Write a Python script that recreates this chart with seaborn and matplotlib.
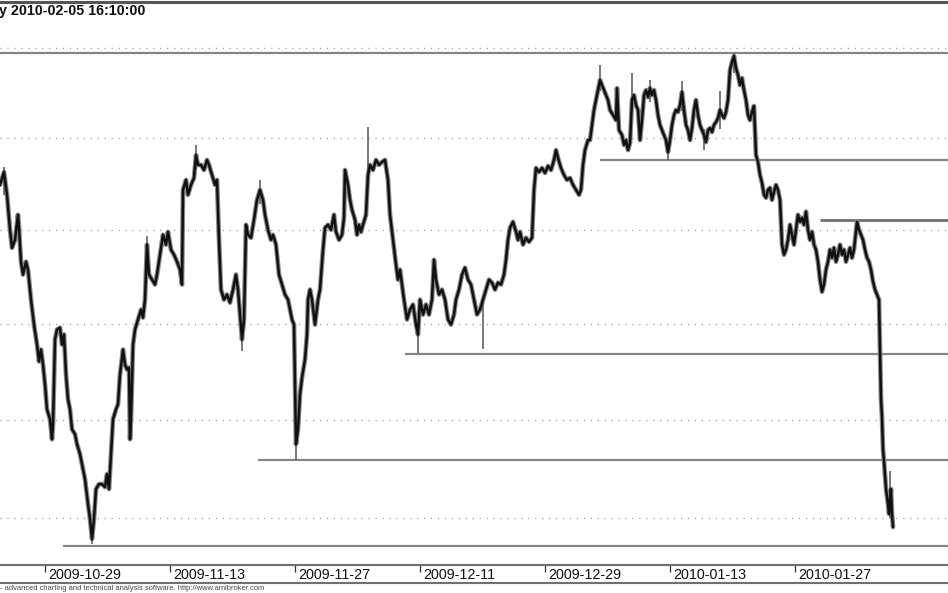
import matplotlib
matplotlib.use("Agg")
import matplotlib.pyplot as plt
from matplotlib.lines import Line2D
import seaborn as sns
import pandas as pd

# ---------------- data (session index since 2009-10-29, price) ----------------
sess = [-3.60, -3.28, -3.04, -2.80, -2.64, -2.40, -2.16, -2.08, -1.92, -1.76, -1.52, -1.36, -1.12, -0.88,
        -0.64, -0.48, -0.32, -0.16, 0.00, 0.16, 0.40, 0.56, 0.64, 0.80, 0.96, 1.20, 1.36, 1.52, 1.68, 1.84,
        2.00, 2.16, 2.40, 2.56, 2.80, 3.04, 3.20, 3.44, 3.60, 3.76, 3.92, 4.08, 4.32, 4.56, 4.80, 4.96,
        5.12, 5.28, 5.44, 5.68, 5.84, 6.00, 6.24, 6.40, 6.56, 6.72, 6.80, 6.88, 7.04, 7.20, 7.44, 7.68,
        7.84, 8.00, 8.16, 8.32, 8.56, 8.80, 8.96, 9.20, 9.44, 9.68, 9.84, 10.08, 10.32, 10.56, 10.80, 10.96,
        11.04, 11.28, 11.44, 11.68, 11.92, 12.08, 12.24, 12.48, 12.72, 12.96, 13.12, 13.36, 13.60, 13.76,
        13.92, 14.08, 14.32, 14.56, 14.80, 15.04, 15.28, 15.44, 15.60, 15.76, 15.92, 16.08, 16.24, 16.48,
        16.72, 16.96, 17.20, 17.44, 17.60, 17.84, 18.08, 18.24, 18.48, 18.72, 18.96, 19.20, 19.44, 19.76,
        19.92, 20.08, 20.24, 20.40, 20.56, 20.80, 20.96, 21.04, 21.20, 21.36, 21.60, 21.84, 22.00, 22.24,
        22.40, 22.64, 22.88, 23.12, 23.28, 23.52, 23.76, 23.92, 24.00, 24.24, 24.40, 24.56, 24.80, 24.96,
        25.12, 25.28, 25.44, 25.68, 25.84, 26.00, 26.24, 26.48, 26.72, 26.96, 27.20, 27.44, 27.60, 27.84,
        28.08, 28.24, 28.40, 28.56, 28.72, 28.96, 29.20, 29.44, 29.68, 29.84, 30.00, 30.24, 30.48, 30.72,
        30.96, 31.12, 31.28, 31.52, 31.76, 32.00, 32.24, 32.48, 32.72, 32.88, 33.12, 33.36, 33.60, 33.84,
        34.08, 34.32, 34.56, 34.80, 35.04, 35.28, 35.52, 35.76, 36.00, 36.24, 36.48, 36.72, 36.88, 37.04,
        37.20, 37.44, 37.68, 37.84, 38.00, 38.24, 38.48, 38.72, 38.96, 39.12, 39.28, 39.52, 39.76, 40.00,
        40.24, 40.48, 40.72, 40.88, 41.04, 41.28, 41.52, 41.76, 42.00, 42.24, 42.48, 42.72, 42.88, 43.04,
        43.20, 43.44, 43.60, 43.76, 43.92, 44.08, 44.24, 44.40, 44.56, 44.72, 44.88, 45.04, 45.20, 45.44,
        45.68, 45.76, 45.92, 46.16, 46.32, 46.48, 46.64, 46.80, 46.96, 47.12, 47.28, 47.44, 47.60, 47.76,
        47.92, 48.08, 48.24, 48.40, 48.56, 48.72, 48.88, 49.04, 49.20, 49.36, 49.52, 49.68, 49.84, 50.00,
        50.16, 50.32, 50.48, 50.64, 50.80, 50.96, 51.12, 51.28, 51.44, 51.60, 51.76, 51.92, 52.08, 52.24,
        52.40, 52.56, 52.72, 52.88, 53.04, 53.20, 53.36, 53.52, 53.68, 53.84, 54.00, 54.16, 54.32, 54.48,
        54.64, 54.80, 54.96, 55.12, 55.28, 55.44, 55.60, 55.76, 55.92, 56.08, 56.24, 56.40, 56.56, 56.72,
        56.88, 57.04, 57.20, 57.36, 57.52, 57.68, 57.84, 58.00, 58.16, 58.32, 58.48, 58.64, 58.80, 58.96,
        59.12, 59.28, 59.44, 59.60, 59.76, 59.92, 60.08, 60.24, 60.40, 60.56, 60.72, 60.88, 61.04, 61.20,
        61.36, 61.52, 61.68, 61.84, 62.00, 62.16, 62.32, 62.48, 62.64, 62.80, 62.96, 63.12, 63.28, 63.44,
        63.60, 63.76, 63.92, 64.08, 64.24, 64.40, 64.56, 64.72, 64.96, 65.12, 65.28, 65.44, 65.60, 65.76,
        65.92, 66.08, 66.24, 66.40, 66.56, 66.72, 66.80, 66.88, 66.96, 67.04, 67.12, 67.28, 67.44, 67.52,
        67.60, 67.68, 67.76, 67.84]

price = [2374.4, 2381.4, 2369.0, 2350.1, 2340.4, 2344.7, 2358.2, 2351.2, 2333.0, 2326.1, 2333.0, 2328.7, 2312.8, 2299.6,
         2289.1, 2280.3, 2286.5, 2278.7, 2268.3, 2255.4, 2250.3, 2240.0, 2247.7, 2291.8, 2297.0, 2298.0, 2289.1, 2294.4, 2273.5, 2260.6,
         2255.4, 2245.1, 2242.6, 2237.5, 2232.4, 2224.7, 2219.6, 2207.0, 2199.5, 2189.4, 2199.5, 2214.6, 2217.1, 2217.1, 2215.6, 2222.2,
         2214.6, 2232.4, 2250.3, 2255.4, 2258.0, 2273.5, 2286.5, 2278.7, 2276.1, 2277.1, 2240.0, 2250.3, 2289.1, 2297.0, 2302.3, 2307.5,
         2303.3, 2312.8, 2342.1, 2326.1, 2323.4, 2320.8, 2326.1, 2336.7, 2347.4, 2342.1, 2349.0, 2339.4, 2336.7, 2333.0, 2328.7, 2320.8,
         2371.7, 2377.1, 2369.0, 2374.4, 2378.2, 2390.7, 2385.3, 2385.3, 2382.5, 2388.0, 2385.3, 2379.8, 2374.4, 2377.1,
         2344.7, 2318.1, 2312.8, 2315.5, 2311.2, 2318.1, 2326.1, 2318.1, 2304.9, 2291.8, 2302.3, 2352.8, 2347.4, 2345.8,
         2355.5, 2366.3, 2371.7, 2366.3, 2358.2, 2350.1, 2344.7, 2347.4, 2342.1, 2326.1, 2320.8, 2315.5, 2312.8, 2302.3,
         2299.6, 2237.5, 2245.1, 2263.1, 2271.9, 2281.3, 2294.4, 2312.8, 2318.1, 2312.8, 2299.6, 2312.8, 2318.1, 2339.4,
         2351.2, 2352.8, 2350.1, 2358.2, 2349.0, 2344.7, 2347.4, 2356.6, 2382.5, 2374.4, 2366.3, 2360.9, 2355.5, 2347.4,
         2352.8, 2349.0, 2352.8, 2358.2, 2379.8, 2385.3, 2382.5, 2388.0, 2385.3, 2386.9, 2388.0, 2377.1, 2358.2, 2344.7,
         2331.4, 2323.4, 2328.7, 2320.8, 2312.8, 2302.3, 2307.5, 2310.2, 2299.6, 2294.4, 2312.8, 2304.9, 2310.2, 2304.9,
         2312.8, 2334.0, 2323.4, 2315.5, 2318.1, 2312.8, 2302.3, 2299.6, 2304.9, 2312.8, 2318.1, 2326.1, 2329.8, 2323.4,
         2320.8, 2312.8, 2304.9, 2307.5, 2312.8, 2318.1, 2323.4, 2321.8, 2318.1, 2321.8, 2320.8, 2326.1, 2334.0, 2344.7,
         2351.2, 2354.4, 2349.0, 2344.7, 2349.0, 2342.1, 2345.8, 2343.6, 2345.8, 2371.7, 2383.6, 2381.4, 2383.6, 2380.9,
         2384.7, 2382.5, 2388.0, 2393.4, 2389.1, 2383.6, 2379.8, 2377.1, 2378.2, 2374.4, 2371.7, 2369.0, 2371.7, 2385.3,
         2393.4, 2398.9, 2398.9, 2407.2, 2415.5, 2421.0, 2426.5, 2432.1, 2429.3, 2426.5, 2423.7, 2421.0, 2415.5, 2412.7,
         2409.9, 2427.6, 2404.4, 2401.7, 2396.2, 2398.9, 2393.4, 2397.3, 2421.0, 2423.7, 2418.2, 2415.5, 2398.9, 2409.9,
         2423.7, 2426.5, 2422.6, 2427.6, 2423.7, 2426.5, 2421.0, 2412.7, 2407.2, 2404.4, 2401.7, 2398.9, 2392.3, 2398.9,
         2407.2, 2412.7, 2415.5, 2414.4, 2418.2, 2425.4, 2415.5, 2407.2, 2404.4, 2398.9, 2405.5, 2415.5, 2421.0, 2412.7,
         2407.2, 2404.4, 2401.7, 2397.8, 2404.4, 2405.5, 2403.3, 2407.2, 2408.8, 2411.0, 2415.5, 2412.7, 2411.0, 2414.4,
         2421.0, 2437.7, 2442.2, 2445.5, 2438.8, 2434.9, 2429.3, 2433.2, 2426.5, 2421.0, 2412.7, 2409.9, 2414.4, 2417.7,
         2390.7, 2386.9, 2379.8, 2375.5, 2369.0, 2367.4, 2371.7, 2372.8, 2366.3, 2370.6, 2374.4, 2371.7, 2366.3, 2342.1,
         2336.7, 2339.4, 2344.7, 2352.8, 2347.4, 2342.1, 2350.1, 2358.2, 2354.4, 2356.6, 2352.8, 2359.9, 2350.1, 2344.7,
         2349.0, 2342.1, 2339.4, 2333.0, 2323.4, 2317.0, 2320.8, 2328.7, 2333.0, 2339.4, 2335.1, 2340.4, 2333.0, 2336.7,
         2342.1, 2336.7, 2339.4, 2333.0, 2336.7, 2340.4, 2335.1, 2339.4, 2354.4, 2350.1, 2347.4, 2344.7, 2339.4, 2335.1,
         2333.0, 2328.7, 2322.4, 2318.1, 2315.5, 2312.8, 2286.5, 2260.6, 2251.3, 2234.9, 2228.8, 2214.6, 2207.0, 2202.0,
         2209.5, 2214.6, 2202.0, 2195.4]

# prominent high-low wicks (session, low, high)
wick_sess = [-3.28, 3.76, 8.16, 12.08, 15.76, 17.20, 20.08, 25.84, 29.84, 35.04, 44.40, 46.96, 48.40,
             49.84, 50.96, 52.72, 54.00, 55.12, 67.60]
wick_low = [2369.0, 2186.9, 2330.0, 2383.0, 2286.0, 2364.0, 2229.3, 2378.0, 2284.6, 2287.0, 2426.0, 2416.0, 2420.0,
            2388.0, 2415.0, 2393.4, 2405.0, 2436.0, 2200.0]
wick_high = [2384.0, 2196.0, 2346.5, 2396.0, 2300.0, 2377.0, 2245.0, 2406.1, 2296.0, 2312.0, 2440.5, 2436.3, 2432.0,
             2398.0, 2431.5, 2405.0, 2426.0, 2447.2, 2224.0]

# horizontal support / resistance lines (level, starting session)
line_level = [2447.2, 2388.0, 2355.5, 2284.4, 2229.3, 2185.9]
line_start = [-3.60, 44.40, 62.00, 28.80, 17.04, 1.44]

grid_levels = [2200, 2250, 2300, 2350, 2400, 2450]

tick_sess = [0, 10, 20, 30, 40, 50, 60]
tick_labels = ["2009-10-29", "2009-11-13", "2009-11-27", "2009-12-11",
               "2009-12-29", "2010-01-13", "2010-01-27"]

title = "y 2010-02-05 16:10:00"
footer = "- advanced charting and technical analysis software. http://www.amibroker.com"

# ---------------- drawing ----------------
sns.set_style("white")
plt.rcParams["font.family"] = ["Liberation Sans", "DejaVu Sans"]

W, H = 948, 593
fig = plt.figure(figsize=(W / 100, H / 100), dpi=100)
fig.patch.set_facecolor("white")

XMIN, XMAX = -3.6, 72.24
ax = fig.add_axes([0, (H - 565) / H, 1, (565 - 20) / H])
ax.set_yscale("log")
ax.set_xlim(XMIN, XMAX)
ax.set_ylim(2176.4, 2465.8)
for s in ax.spines.values():
    s.set_visible(False)
ax.set_xticks([])
ax.set_yticks([])
ax.minorticks_off()
ax.yaxis.set_minor_locator(matplotlib.ticker.NullLocator())

for g in grid_levels:
    ax.axhline(g, color="#9a9a9a", lw=1.0, ls=(0, (0.8, 4.2)), zorder=1)

for lvl, st in zip(line_level, line_start):
    ax.hlines(lvl, st, XMAX, color="#6f6f6f" if lvl == 2355.5 else "#858585",
              lw=2.0 if lvl == 2355.5 else 1.6, zorder=2)

df = pd.DataFrame({"sess": sess, "price": price})
sns.lineplot(data=df, x="sess", y="price", ax=ax, sort=False, estimator=None,
             color="#8a8a8a", lw=3.4, zorder=3)
sns.lineplot(data=df, x="sess", y="price", ax=ax, sort=False, estimator=None,
             color="#111111", lw=1.8, zorder=4)
ax.vlines(wick_sess, wick_low, wick_high, color="#555555", lw=1.1, zorder=3)
ax.set_xlabel("")
ax.set_ylabel("")
ax.set_xlim(XMIN, XMAX)
ax.set_ylim(2176.4, 2465.8)

# date band
ax2 = fig.add_axes([0, (H - 583) / H, 1, 18 / H])
ax2.set_xlim(XMIN, XMAX)
ax2.set_ylim(0, 1)
ax2.set_xticks([])
ax2.set_yticks([])
for side in ["left", "right"]:
    ax2.spines[side].set_visible(False)
for side in ["top", "bottom"]:
    ax2.spines[side].set_color("#707070")
    ax2.spines[side].set_linewidth(1.5)
ax2.set_facecolor("none")
ax2.vlines(tick_sess, 0.6, 1.0, color="#333333", lw=0.9)
for t, lab in zip(tick_sess, tick_labels):
    ax2.text(t + 0.22, 0.42, lab, ha="left", va="center", fontsize=10.3, color="#111111")

# top border, title, footer
fig.add_artist(Line2D([0, 1], [1 - 1.5 / H, 1 - 1.5 / H], color="#555555", lw=2.2))
fig.text(-0.001, 1 - 10.5 / H, title, ha="left", va="center", fontsize=10.3,
         fontweight="bold", color="#111111")
fig.text(0.0, 1 - 588.5 / H, footer, ha="left", va="center", fontsize=5.4, color="#444444")

fig.savefig("out.png", dpi=100, facecolor="white")
